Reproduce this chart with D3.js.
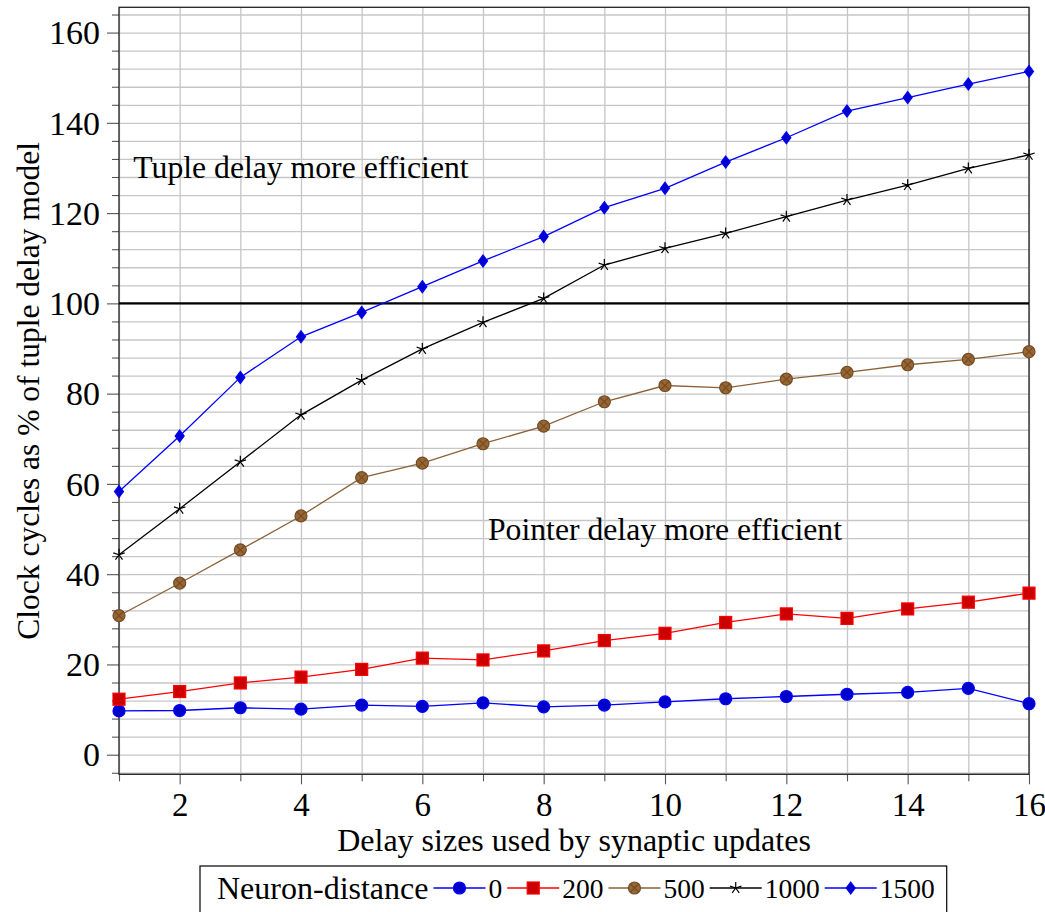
<!DOCTYPE html>
<html>
<head>
<meta charset="utf-8">
<script src="https://cdn.jsdelivr.net/npm/d3@7"></script>
<style>
  body { margin: 0; background: #fff; }
  text { font-family: "Liberation Serif", "DejaVu Serif", serif; fill: #000; }
</style>
</head>
<body>
<svg id="chart" width="1045" height="912"></svg>
<script>
// Delay sizes (x) and clock cycles as % of the tuple delay model, per neuron distance
const delays = [1, 2, 3, 4, 5, 6, 7, 8, 9, 10, 11, 12, 13, 14, 15, 16];
const dist0    = [9.7, 9.8, 10.4, 10.1, 11.0, 10.7, 11.5, 10.6, 11.0, 11.7, 12.4, 12.9, 13.4, 13.8, 14.7, 11.3];
const dist200  = [12.3, 14.0, 15.9, 17.2, 18.9, 21.4, 21.0, 23.0, 25.3, 26.9, 29.3, 31.2, 30.2, 32.3, 33.8, 35.8];
const dist500  = [30.8, 38.0, 45.4, 52.9, 61.4, 64.6, 68.9, 72.8, 78.2, 81.8, 81.3, 83.2, 84.7, 86.4, 87.6, 89.3];
const dist1000 = [44.3, 54.5, 64.9, 75.3, 83.0, 89.9, 95.8, 101.1, 108.5, 112.2, 115.5, 119.2, 122.9, 126.2, 129.9, 132.9];
const dist1500 = [58.3, 70.6, 83.6, 92.6, 98.0, 103.7, 109.4, 114.8, 121.2, 125.5, 131.3, 136.7, 142.6, 145.6, 148.6, 151.4];
const seriesLabels = ["0", "200", "500", "1000", "1500"];

const xTickLabels = [2, 4, 6, 8, 10, 12, 14, 16];
const yTickLabels = [0, 20, 40, 60, 80, 100, 120, 140, 160];
const yMinorTicks = [-4, 4, 8, 12, 16, 24, 28, 32, 36, 44, 48, 52, 56, 64, 68, 72, 76, 84, 88, 92, 96,
                     104, 108, 112, 116, 124, 128, 132, 136, 144, 148, 152, 156, 164];
const threshold = 100;

const annotations = [
  { text: "Tuple delay more efficient", x: 4, y: 130 },
  { text: "Pointer delay more efficient", x: 10, y: 50 }
];

// Series styling (line colour, marker shape, marker fill, marker stroke)
const styles = [
  { line: "#0000ff", mark: "circle",  fill: "#0000cc", stroke: "#0000ff" },
  { line: "#ff0000", mark: "square",  fill: "#cc0000", stroke: "#ff0000" },
  { line: "#8a6239", mark: "otimes",  fill: "#996633", stroke: "#734d26" },
  { line: "#000000", mark: "star",    fill: "none",    stroke: "#000000" },
  { line: "#0000ff", mark: "diamond", fill: "#0000cc", stroke: "#0000ff" }
];
const seriesValues = [dist0, dist200, dist500, dist1000, dist1500];

const svg = d3.select("#chart");
const L = 119, R = 1029, T = 7.3, B = 774.3;
const x = d3.scaleLinear().domain([1, 16]).range([L, R]);
const y = d3.scaleLinear().domain([-4.34, 165.6]).range([B, T]);

const tickFont = 33;

// grid
const gridX = svg.append("g").attr("transform", `translate(0,${B})`)
  .call(d3.axisBottom(x).tickValues(delays).tickSize(-(B - T)).tickFormat(""));
const gridY = svg.append("g").attr("transform", `translate(${L},0)`)
  .call(d3.axisLeft(y).tickValues(yTickLabels.concat(yMinorTicks)).tickSize(-(R - L)).tickFormat(""));
[gridX, gridY].forEach(g => {
  g.select(".domain").remove();
  g.selectAll("line").attr("stroke", "#c6c6c6").attr("stroke-width", 1.3);
});

// outward tick marks
function tickAxis(axis, transform, fmt, size) {
  const g = svg.append("g").attr("transform", transform)
    .call(axis.tickSizeInner(size).tickSizeOuter(0).tickPadding(6).tickFormat(fmt));
  g.select(".domain").remove();
  g.attr("font-family", null);
  g.selectAll("line").attr("stroke", "#555").attr("stroke-width", 1.1);
  return g;
}
tickAxis(d3.axisBottom(x).tickValues(delays.filter(d => !xTickLabels.includes(d))), `translate(0,${B})`, () => "", 7);
tickAxis(d3.axisLeft(y).tickValues(yMinorTicks), `translate(${L},0)`, () => "", 7);
const xAx = tickAxis(d3.axisBottom(x).tickValues(xTickLabels), `translate(0,${B})`, d3.format("d"), 10);
const yAx = tickAxis(d3.axisLeft(y).tickValues(yTickLabels), `translate(${L},0)`, d3.format("d"), 12);
xAx.selectAll("text").attr("font-size", tickFont).attr("y", 42).attr("dy", 0);
yAx.selectAll("text").attr("font-size", 34).attr("x", -19).attr("dy", "0.33em");

// frame
svg.append("rect").attr("x", L).attr("y", T).attr("width", R - L).attr("height", B - T)
  .attr("fill", "none").attr("stroke", "#222").attr("stroke-width", 1.3);

// 100% reference line
svg.append("line").attr("x1", L).attr("x2", R).attr("y1", y(threshold)).attr("y2", y(threshold))
  .attr("stroke", "#000").attr("stroke-width", 2.4);

// region labels
svg.selectAll(".ann").data(annotations).enter().append("text")
  .attr("x", d => x(d.x)).attr("y", d => y(d.y))
  .attr("text-anchor", "middle").attr("dominant-baseline", "central")
  .attr("font-size", 31.7).text(d => d.text);

// marker drawing
function drawMarker(g, st, cx, cy) {
  const s = 6;
  if (st.mark === "circle") {
    g.append("circle").attr("cx", cx).attr("cy", cy).attr("r", s)
      .attr("fill", st.fill).attr("stroke", st.stroke).attr("stroke-width", 1.2);
  } else if (st.mark === "square") {
    g.append("rect").attr("x", cx - s).attr("y", cy - s).attr("width", 2 * s).attr("height", 2 * s)
      .attr("fill", st.fill).attr("stroke", st.stroke).attr("stroke-width", 1.2);
  } else if (st.mark === "otimes") {
    g.append("circle").attr("cx", cx).attr("cy", cy).attr("r", s)
      .attr("fill", st.fill).attr("stroke", st.stroke).attr("stroke-width", 1.2);
    const k = s * 0.707;
    g.append("path").attr("d", `M${cx - k},${cy - k}L${cx + k},${cy + k}M${cx - k},${cy + k}L${cx + k},${cy - k}`)
      .attr("stroke", st.stroke).attr("stroke-width", 1.2).attr("fill", "none");
  } else if (st.mark === "star") {
    let d = "";
    for (let i = 0; i < 5; i++) {
      const a = Math.PI / 2 + i * 2 * Math.PI / 5;
      d += `M${cx},${cy}L${cx + s * Math.cos(a)},${cy - s * Math.sin(a)}`;
    }
    g.append("path").attr("d", d).attr("stroke", st.stroke).attr("stroke-width", 1.2).attr("fill", "none");
  } else if (st.mark === "diamond") {
    const w = s * 0.75;
    g.append("path").attr("d", `M${cx},${cy - s}L${cx + w},${cy}L${cx},${cy + s}L${cx - w},${cy}Z`)
      .attr("fill", st.fill).attr("stroke", st.stroke).attr("stroke-width", 1.2);
  }
}

// series
const line = d3.line().x((d, i) => x(delays[i])).y(d => y(d));
seriesValues.forEach((vals, si) => {
  const st = styles[si];
  const g = svg.append("g");
  g.append("path").datum(vals).attr("d", line).attr("fill", "none")
    .attr("stroke", st.line).attr("stroke-width", 1.3);
  vals.forEach((v, i) => drawMarker(g, st, x(delays[i]), y(v)));
});

// axis titles
svg.append("text").attr("x", (L + R) / 2).attr("y", 840).attr("text-anchor", "middle")
  .attr("dominant-baseline", "central").attr("font-size", 32).text("Delay sizes used by synaptic updates");
svg.append("text").attr("transform", `translate(28,${(T + B) / 2}) rotate(-90)`).attr("text-anchor", "middle")
  .attr("dominant-baseline", "central").attr("font-size", 31.5).text("Clock cycles as % of tuple delay model");

// legend
const leg = svg.append("g");
const legBox = leg.append("rect").attr("y", 866).attr("height", 60)
  .attr("fill", "#fff").attr("stroke", "#000").attr("stroke-width", 1.2);
const legY = 888;
let lx = 217;
const title = leg.append("text").attr("x", lx).attr("y", legY).attr("dominant-baseline", "central")
  .attr("font-size", 32).text("Neuron-distance");
lx += title.node().getComputedTextLength() + 5;
seriesLabels.forEach((lab, si) => {
  const st = styles[si];
  leg.append("line").attr("x1", lx).attr("x2", lx + 52).attr("y1", legY).attr("y2", legY)
    .attr("stroke", st.line).attr("stroke-width", 1.3);
  drawMarker(leg, st, lx + 26, legY);
  lx += 55;
  const t = leg.append("text").attr("x", lx).attr("y", legY).attr("dominant-baseline", "central")
    .attr("font-size", 27.5).text(lab);
  lx += t.node().getComputedTextLength() + 5;
});
legBox.attr("x", 200).attr("width", lx + 7 - 200);
</script>
</body>
</html>
